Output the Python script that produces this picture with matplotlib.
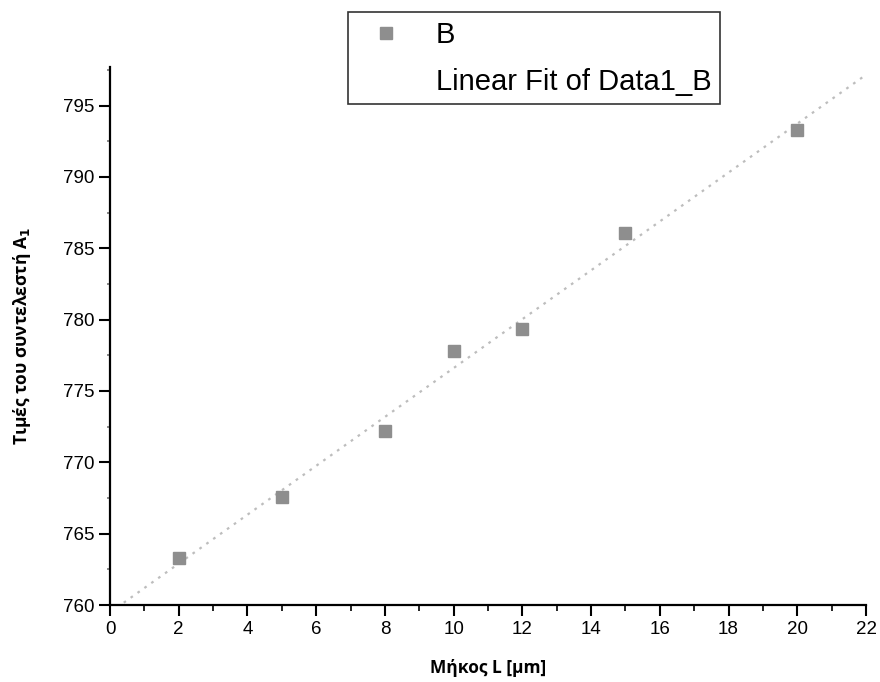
import numpy as np
import matplotlib
matplotlib.use("Agg")
import matplotlib.pyplot as plt
from matplotlib.ticker import MultipleLocator

# Measured data: length L (μm) vs coefficient A1
length_um = [2, 5, 8, 10, 12, 15, 20]
coef_a1 = [763.3, 767.6, 772.2, 777.8, 779.35, 786.1, 793.3]

x_ticks = [0, 2, 4, 6, 8, 10, 12, 14, 16, 18, 20, 22]
y_ticks = [760, 765, 770, 775, 780, 785, 790, 795]

plt.rcParams['font.family'] = ['Liberation Sans', 'DejaVu Sans']

W, H = 880, 682
fig = plt.figure(figsize=(W / 100, H / 100), dpi=100)
ax = fig.add_axes([110 / W, 1 - 605 / H, 756 / W, 538 / H])

# Least-squares linear fit
slope, intercept = np.polyfit(length_um, coef_a1, 1)
xf = np.linspace(0, 22, 200)
ax.plot(xf, slope * xf + intercept, linestyle=(0, (1.2, 2.6)), color='#bdbdbd',
        linewidth=1.6, label='Linear Fit of Data1_B', zorder=2)
ax.plot(length_um, coef_a1, linestyle='none', marker='s', markersize=8,
        color='#8e8e8e', markeredgecolor='#8e8e8e', label='B', zorder=3)

ax.set_xlim(0, 22)
ax.set_ylim(760, 797.7)
ax.set_xticks(x_ticks)
ax.set_yticks(y_ticks)
ax.xaxis.set_minor_locator(MultipleLocator(1))
ax.yaxis.set_minor_locator(MultipleLocator(2.5))

for s in ['top', 'right']:
    ax.spines[s].set_visible(False)
for s in ['left', 'bottom']:
    ax.spines[s].set_linewidth(1.6)

ax.tick_params(axis='both', which='major', direction='out', length=8, width=1.5,
               labelsize=13.5, colors='black')
ax.tick_params(axis='both', which='minor', direction='out', length=4, width=1.2)
ax.tick_params(axis='y', which='minor', length=2, color='#777777')

label_font = dict(fontsize=12.5, fontweight='bold', family=['Open Sans', 'DejaVu Sans'])
ax.set_xlabel('Μήκος L [μm]', **label_font)
ax.set_ylabel('Τιμές του συντελεστή A$_\\mathbf{1}$', **label_font)
ax.xaxis.set_label_coords(0.5, -(668 - 605) / 538)
ax.yaxis.set_label_coords(-(110 - 22) / 756, 0.5)
ax.xaxis.label.set_va('center')
ax.yaxis.label.set_va('center')

handles, labels = ax.get_legend_handles_labels()
leg = fig.legend(handles[::-1], labels[::-1], loc='upper left',
                 bbox_to_anchor=(348 / W, 1 - 12 / H), borderaxespad=0,
                 fontsize=21, frameon=True, fancybox=False, edgecolor='black',
                 handlelength=2.0, handletextpad=0.7, borderpad=0.3,
                 labelspacing=0.65)
leg.get_frame().set_linewidth(1.2)
for h in leg.legend_handles:
    if h.get_label() == 'Linear Fit of Data1_B':
        h.set_alpha(0)

fig.savefig('out.png', dpi=100, facecolor='white')
